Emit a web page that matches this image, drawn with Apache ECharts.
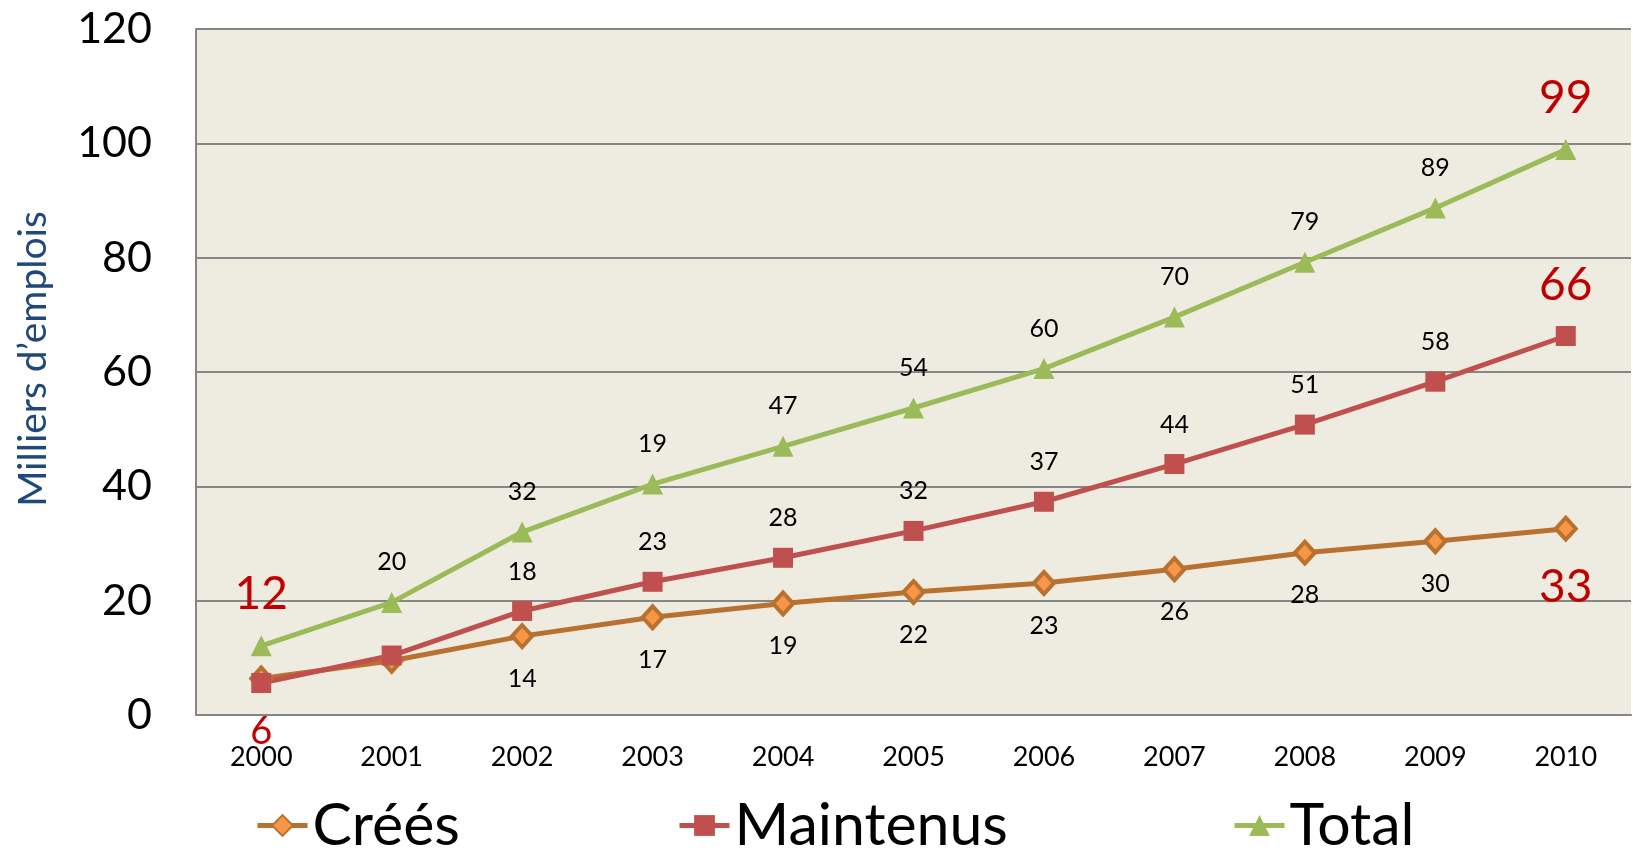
<!DOCTYPE html>
<html>
<head>
<meta charset="utf-8">
<script src="https://cdn.jsdelivr.net/npm/echarts@6/dist/echarts.min.js"></script>
<style>
  html, body { margin: 0; padding: 0; background: #fff; }
  #chart { width: 1633px; height: 850px; }
</style>
</head>
<body>
<div id="chart"></div>
<script>
// 数据
const years = ['2000', '2001', '2002', '2003', '2004', '2005', '2006', '2007', '2008', '2009', '2010'];
const crees = [6.4, 9.5, 13.8, 17.1, 19.5, 21.5, 23.1, 25.5, 28.4, 30.4, 32.6];
const maintenus = [5.6, 10.4, 18.2, 23.3, 27.5, 32.2, 37.3, 43.9, 50.8, 58.3, 66.3];
const total = [12.1, 19.7, 32.0, 40.4, 47.0, 53.7, 60.6, 69.6, 79.2, 88.7, 98.9];
// 图上显示的标签文字（空字符串 = 不显示）
const creesLabels = ['', '', '14', '17', '19', '22', '23', '26', '28', '30', '33'];
const maintenusLabels = ['6', '', '18', '23', '28', '32', '37', '44', '51', '58', '66'];
const totalLabels = ['12', '20', '32', '19', '47', '54', '60', '70', '79', '89', '99'];
// 红色大号标签所在的位置
const creesRed = [10];
const maintenusRed = [0, 10];
const totalRed = [0, 10];
const yTicks = { min: 0, max: 120, interval: 20 };

const FONT = 'Lato, "Open Sans", sans-serif';

// 构造带标签的数据项
function buildData(values, labels, redIdx, pos, redPos) {
    return values.map((v, i) => {
        const txt = labels[i];
        if (!txt) return { value: v, label: { show: false } };
        const isRed = redIdx.indexOf(i) >= 0;
        const p = isRed ? (redPos[i] || pos) : pos;
        let dist = 17;
        if (isRed) dist = p === 'bottom' ? 22 : 18;
        return {
            value: v,
            label: {
                show: true,
                position: p,
                formatter: txt,
                color: isRed ? '#C00000' : '#000',
                fontSize: isRed ? (i === 0 && p === 'bottom' ? 38 : 46) : 25,
                fontFamily: FONT,
                distance: (isRed && i === 0 && p === 'bottom') ? 20 : dist
            }
        };
    });
}

const chart = echarts.init(document.getElementById('chart'));

// 三个图例分开放置，位置与原图一致
const legendBase = {
    orient: 'horizontal',
    top: 796,
    padding: 0,
    itemWidth: 50,
    itemHeight: 26,
    lineStyle: { width: 5 },
    textStyle: { fontSize: 59, fontFamily: FONT, color: '#000' }
};

chart.setOption({
    animation: false,
    grid: {
        left: 196, right: 2, top: 29, bottom: 135,
        show: true, backgroundColor: '#EEECE1', borderWidth: 0
    },
    legend: [
        Object.assign({ left: 255, data: ['Créés'] }, legendBase),
        Object.assign({ left: 677, data: ['Maintenus'] }, legendBase),
        Object.assign({ left: 1232, data: ['Total'] }, legendBase)
    ],
    graphic: [{
        type: 'text',
        x: 33, y: 359,
        rotation: Math.PI / 2,
        style: {
            text: 'Milliers d’emplois',
            fontSize: 39,
            fontFamily: FONT,
            fill: '#1F497D',
            align: 'center',
            verticalAlign: 'middle'
        }
    }],
    xAxis: {
        type: 'category',
        data: years,
        boundaryGap: true,
        axisLine: { lineStyle: { color: '#868686', width: 2 } },
        axisTick: { show: false },
        axisLabel: { fontSize: 27, fontFamily: FONT, color: '#000', margin: 29 }
    },
    yAxis: {
        type: 'value',
        min: yTicks.min, max: yTicks.max, interval: yTicks.interval,
        axisLine: { show: true, lineStyle: { color: '#868686', width: 2 } },
        axisTick: { show: false },
        splitLine: { lineStyle: { color: '#868686', width: 2 } },
        axisLabel: { fontSize: 43, fontFamily: FONT, color: '#000', margin: 44 }
    },
    series: [
        {
            name: 'Créés',
            type: 'line',
            data: buildData(crees, creesLabels, creesRed, 'bottom', { 10: 'bottom' }),
            symbol: 'diamond',
            symbolSize: [20, 22],
            lineStyle: { color: '#B8712F', width: 5 },
            itemStyle: { color: '#F79646', borderColor: '#B8712F', borderWidth: 4 }
        },
        {
            name: 'Maintenus',
            type: 'line',
            data: buildData(maintenus, maintenusLabels, maintenusRed, 'top', { 0: 'bottom', 10: 'top' }),
            symbol: 'rect',
            symbolSize: 20,
            lineStyle: { color: '#C0504D', width: 5 },
            itemStyle: { color: '#C0504D', borderWidth: 0 }
        },
        {
            name: 'Total',
            type: 'line',
            data: buildData(total, totalLabels, totalRed, 'top', { 0: 'top', 10: 'top' }),
            symbol: 'triangle',
            symbolSize: 21,
            lineStyle: { color: '#9BBB59', width: 5 },
            itemStyle: { color: '#9BBB59', borderWidth: 0 }
        }
    ]
});
</script>
</body>
</html>
